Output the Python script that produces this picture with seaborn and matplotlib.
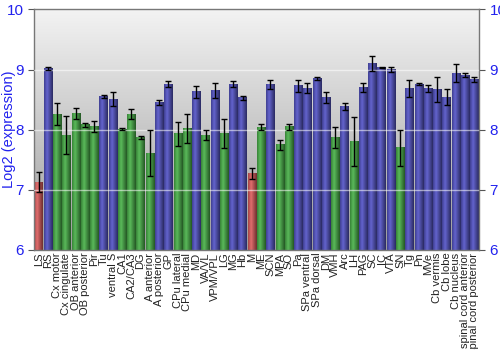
import numpy as np
import matplotlib
matplotlib.use("Agg")
import matplotlib.pyplot as plt
import matplotlib.colors as mcolors
import seaborn as sns
import pandas as pd

regions = ["LS", "RS", "Cx motor", "Cx cingulate", "OB anterior", "OB posterior", "Pir", "Tu",
           "ventral S", "CA1", "CA2/CA3", "DG", "A anterior", "A posterior", "GP", "CPu lateral",
           "CPu medial", "MD", "VA/VL", "VPM/VPL", "LG", "MG", "Hb", "M", "ME", "SCN", "MPA", "SO",
           "Pa", "SPa ventral", "SPa dorsal", "DM", "VMH", "Arc", "LH", "PAG", "SC", "IC", "VTA",
           "SN", "Tg", "Pn", "MVe", "Cb vermis", "Cb lobe", "Cb nucleus", "spinal cord anterior",
           "spinal cord posterior"]
expression = [7.13, 9.02, 8.26, 7.91, 8.27, 8.08, 8.05, 8.55, 8.51, 8.01, 8.26, 7.87, 7.61, 8.45,
              8.76, 7.93, 8.02, 8.63, 7.91, 8.65, 7.94, 8.76, 8.53, 7.27, 8.04, 8.75, 7.75, 8.05,
              8.73, 8.69, 8.85, 8.53, 7.87, 8.39, 7.80, 8.70, 9.10, 9.03, 9.00, 7.70, 8.69, 8.76,
              8.69, 8.67, 8.54, 8.94, 8.91, 8.83]
errors = [0.17, 0.03, 0.19, 0.32, 0.09, 0.03, 0.09, 0.03, 0.12, 0.02, 0.09, 0.02, 0.38, 0.04,
          0.05, 0.20, 0.24, 0.10, 0.08, 0.13, 0.24, 0.05, 0.03, 0.09, 0.05, 0.08, 0.08, 0.05,
          0.10, 0.08, 0.03, 0.09, 0.17, 0.06, 0.41, 0.08, 0.12, 0.01, 0.04, 0.30, 0.14, 0.01,
          0.06, 0.21, 0.13, 0.15, 0.03, 0.04]
groups = ["low", "high", "mid", "mid", "mid", "mid", "mid", "high", "high", "mid", "mid", "mid",
          "mid", "high", "high", "mid", "mid", "high", "mid", "high", "mid", "high", "high", "low",
          "mid", "high", "mid", "mid", "high", "high", "high", "high", "mid", "high", "mid",
          "high", "high", "high", "high", "mid", "high", "high", "high", "high", "high", "high",
          "high", "high"]
palette = {"low": "#c43c3c", "mid": "#2f9e2f", "high": "#3636b0"}

df = pd.DataFrame({"region": regions, "expr": expression, "err": errors, "grp": groups})

sns.set_style("white")
plt.rcParams["font.family"] = ["Liberation Sans", "DejaVu Sans"]

fig = plt.figure(figsize=(5, 3.5), dpi=100)
ax = fig.add_axes([0.068, 0.286, 0.89, 0.687])

sns.barplot(data=df, x="region", y="expr", hue="grp", palette=palette, dodge=False,
            legend=False, width=0.9, ax=ax, errorbar=None, linewidth=0, zorder=2)

YMIN, YMAX = 6, 10
n = len(regions)

# background gradient (light at top, darker at bottom)
bg = np.linspace(0, 1, 256).reshape(-1, 1)
bg_cmap = mcolors.LinearSegmentedColormap.from_list("bg", ["#f3f3f3", "#9c9c9c"])
ax.imshow(bg, cmap=bg_cmap, aspect="auto", extent=[-0.5, n - 0.5, YMIN, YMAX],
          zorder=0, origin="upper", interpolation="bilinear")

# shade bars with horizontal gradient
for p in list(ax.patches):
    base = np.array(mcolors.to_rgb(p.get_facecolor()))
    x0, y0 = p.get_x(), p.get_y()
    w, h = p.get_width(), p.get_height()
    top = y0 + h
    pos = np.linspace(0, 1, 64)
    light = np.clip(base * 1.15 + 0.08, 0, 1)
    dark = base * 0.6
    cols = []
    for t in pos:
        if t < 0.35:
            f = t / 0.35
            c = base * 0.9 * (1 - f) + light * f
        else:
            f = (t - 0.35) / 0.65
            c = light * (1 - f) + dark * f
        cols.append(c)
    img = np.array(cols).reshape(1, -1, 3)
    ax.imshow(img, aspect="auto", extent=[x0, x0 + w, YMIN, top], zorder=2.5,
              interpolation="bilinear")
    p.set_visible(False)

ax.set_xlim(-0.5, n - 0.5)
ax.set_ylim(YMIN, YMAX)

# grid lines over everything (faint)
for yv in [7, 8, 9]:
    ax.axhline(yv, color="white", lw=1, alpha=0.55, zorder=3)

ax.errorbar(np.arange(n), df["expr"], yerr=df["err"], fmt="none",
            ecolor="black", elinewidth=1, capsize=2.5, capthick=1, zorder=4)

ax.set_yticks([6, 7, 8, 9, 10])
ax.tick_params(axis="y", which="both", left=True, right=True, labelleft=True,
               labelright=True, labelsize=11, labelcolor="#2222ee", color="#555555",
               length=4, direction="out")
ax.tick_params(axis="x", labelsize=8, labelrotation=90, length=0, pad=2,
               labelcolor="#222222")
ax.set_xlabel("")
ax.set_ylabel("Log2 (expression)", color="#2222ee", fontsize=10.5)
ax.yaxis.set_label_coords(-0.04, 0.5)
for s in ax.spines.values():
    s.set_color("#777777")
    s.set_linewidth(1)

fig.savefig("out.png", dpi=100)
